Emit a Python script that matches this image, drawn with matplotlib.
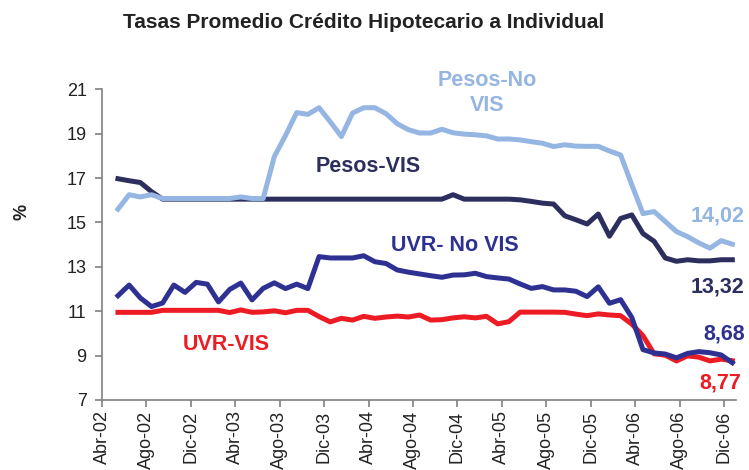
import numpy as np
import matplotlib
matplotlib.use("Agg")
import matplotlib.pyplot as plt

plt.rcParams["font.family"] = ["Liberation Sans", "DejaVu Sans"]

# monthly data, May-02 .. Dic-06 (56 points)
pesos_no_vis = [15.6, 16.25, 16.15, 16.25, 16.08, 16.08, 16.08, 16.08, 16.08, 16.08,
                16.08, 16.15, 16.08, 16.08, 17.97, 18.92, 19.95, 19.87, 20.17, 19.54,
                18.87, 19.93, 20.17, 20.17, 19.9, 19.45, 19.18, 19.03, 19.03, 19.2,
                19.04, 18.98, 18.95, 18.9, 18.76, 18.76, 18.72, 18.64, 18.57, 18.42,
                18.5, 18.44, 18.43, 18.43, 18.22, 18.04, 16.7, 15.4, 15.49, 15.04,
                14.59, 14.36, 14.08, 13.84, 14.18, 14.02]
pesos_vis = [16.97, 16.88, 16.8, 16.39, 16.05, 16.05, 16.05, 16.05, 16.05, 16.05,
             16.05, 16.05, 16.05, 16.05, 16.05, 16.05, 16.05, 16.05, 16.05, 16.05,
             16.05, 16.05, 16.05, 16.05, 16.05, 16.05, 16.05, 16.05, 16.05, 16.05,
             16.25, 16.05, 16.05, 16.05, 16.05, 16.05, 16.02, 15.95, 15.87, 15.83,
             15.3, 15.12, 14.93, 15.38, 14.38, 15.18, 15.34, 14.5, 14.15, 13.4,
             13.25, 13.32, 13.27, 13.27, 13.32, 13.32]
uvr_no_vis = [11.7, 12.18, 11.6, 11.21, 11.37, 12.18, 11.85, 12.3, 12.22, 11.42,
              11.98, 12.27, 11.51, 12.03, 12.28, 12.02, 12.22, 12.02, 13.46, 13.4,
              13.4, 13.4, 13.5, 13.23, 13.15, 12.86, 12.76, 12.68, 12.6, 12.53,
              12.63, 12.64, 12.71, 12.56, 12.5, 12.45, 12.23, 12.03, 12.11, 11.96,
              11.96, 11.9, 11.66, 12.1, 11.36, 11.52, 10.72, 9.27, 9.12, 9.07,
              8.9, 9.1, 9.18, 9.13, 9.03, 8.68]
uvr_vis = [10.95, 10.95, 10.95, 10.95, 11.04, 11.04, 11.04, 11.04, 11.04, 11.04,
           10.94, 11.06, 10.95, 10.97, 11.02, 10.93, 11.04, 11.04, 10.76, 10.52,
           10.68, 10.6, 10.77, 10.68, 10.74, 10.78, 10.74, 10.83, 10.6, 10.62,
           10.7, 10.75, 10.7, 10.77, 10.43, 10.53, 10.96, 10.96, 10.96, 10.96,
           10.95, 10.87, 10.8, 10.88, 10.83, 10.8, 10.42, 9.9, 9.08, 9.02,
           8.76, 8.99, 8.93, 8.76, 8.84, 8.77]

tick_labels = ["Abr-02", "Ago-02", "Dic-02", "Abr-03", "Ago-03", "Dic-03", "Abr-04",
               "Ago-04", "Dic-04", "Abr-05", "Ago-05", "Dic-05", "Abr-06", "Ago-06",
               "Dic-06"]

c_light = "#95B5E2"
c_dark = "#2C2E5E"
c_blue = "#2E3192"
c_red = "#ED1C24"
c_axis = "#808080"

W, H = 749, 470
fig = plt.figure(figsize=(W / 100, H / 100), dpi=100)
ax = fig.add_axes([102 / W, 1 - 400 / H, (736 - 102) / W, (400 - 89.3) / H])

x = np.arange(len(pesos_no_vis))
ax.plot(x, uvr_vis, color=c_red, lw=3.6, solid_joinstyle="round")
ax.plot(x, uvr_no_vis, color=c_blue, lw=3.6, solid_joinstyle="round")
ax.plot(x, pesos_vis, color=c_dark, lw=3.6, solid_joinstyle="round")
ax.plot(x, pesos_no_vis, color=c_light, lw=3.6, solid_joinstyle="round")

ax.set_xlim(-1.43, 55.33)
ax.set_ylim(7, 21)
ax.set_yticks(range(7, 22, 2))
ax.set_xticks(np.linspace(-1.43, 54.25, len(tick_labels)))
ax.set_xticklabels(tick_labels, rotation=90)

for s in ["top", "right"]:
    ax.spines[s].set_visible(False)
for s in ["left", "bottom"]:
    ax.spines[s].set_color(c_axis)
    ax.spines[s].set_linewidth(1.2)
ax.tick_params(axis="both", direction="out", length=5, width=1.2, color=c_axis,
               labelsize=13, labelcolor="#222222")
ax.tick_params(axis="y", pad=6)
ax.tick_params(axis="x", pad=2.5)

fig.text(364 / W, 1 - 22 / H, "Tasas Promedio Crédito Hipotecario a Individual",
         ha="center", va="center", fontsize=15, fontweight="bold", color="#222222")
fig.text(22 / W, 1 - 212 / H, "%", ha="center", va="center", rotation=90,
         fontsize=13, fontweight="bold", color="#222222")

def label(px, py, s, color):
    fig.text(px / W, 1 - py / H, s, ha="center", va="center", fontsize=15.5,
             fontweight="bold", color=color, linespacing=1.25)

label(487, 93, "Pesos-No\nVIS", c_light)
label(368, 167, "Pesos-VIS", c_dark)
label(455, 245, "UVR- No VIS", c_blue)
label(226, 345, "UVR-VIS", c_red)
label(718, 216, "14,02", c_light)
label(718, 287, "13,32", c_dark)
label(724, 334, "8,68", c_blue)
label(720, 383, "8,77", c_red)

fig.savefig("out.png", dpi=100)
